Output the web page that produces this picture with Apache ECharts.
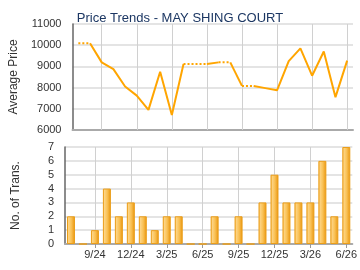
<!DOCTYPE html>
<html>
<head>
<meta charset="utf-8">
<title>Price Trends - MAY SHING COURT</title>
<script src="https://cdn.jsdelivr.net/npm/echarts@6/dist/echarts.min.js"></script>
<style>
	html, body { margin: 0; padding: 0; background: #fff; }
	#priceTrends { width: 360px; height: 270px; }
</style>
</head>
<body>
<div id="priceTrends"></div>
<script>
	var months = ['7/24', '8/24', '9/24', '10/24', '11/24', '12/24', '1/25', '2/25', '3/25', '4/25', '5/25', '6/25',
		'7/25', '8/25', '9/25', '10/25', '11/25', '12/25', '1/26', '2/26', '3/26', '4/26', '5/26', '6/26'];
	// average price per month, null = no transaction in that month
	var avgPrice = [10090, null, 9190, 8870, 8050, 7620, 6950, 8750, 6710, 9110, null, null,
		9190, null, 8080, null, 7975, 7870, 9250, 9850, 8560, 9700, 7550, 9270];
	var transCount = [2, 0, 1, 4, 2, 3, 2, 1, 2, 2, 0, 0, 2, 0, 2, 0, 3, 5, 3, 3, 3, 6, 2, 7];
	var priceRange = [6000, 11000];
	var transRange = [0, 7];

	var font = 'Liberation Sans, Arial, sans-serif';
	var orange = '#FFA500';

	// months without deals carry the last price forward (drawn dotted)
	var filled = [];
	for (var i = 0; i < avgPrice.length; i++) {
		filled.push(avgPrice[i] != null ? avgPrice[i] : filled[i - 1]);
	}

	// split the line into runs of solid / dotted segments
	function runs(test) {
		var out = [], cur = null;
		for (var i = 0; i < filled.length - 1; i++) {
			if (test(i)) {
				if (!cur) {
					cur = filled.map(function() { return null; });
					cur[i] = filled[i];
					out.push(cur);
				}
				cur[i + 1] = filled[i + 1];
			} else {
				cur = null;
			}
		}
		return out;
	}

	function quarterly(index) {
		return index % 3 === 2;
	}

	// vertical grid lines sit on the quarter labels (category centres)
	var quarterLines = months.filter(function(m, i) { return quarterly(i); }).map(function(m) {
		return { xAxis: m };
	});
	function gridSeries(idx) {
		return {
			type: 'line', xAxisIndex: idx, yAxisIndex: idx, data: [], z: 1, silent: true,
			markLine: {
				silent: true, symbol: 'none', animation: false, z: 1,
				label: { show: false },
				lineStyle: { color: '#d0d0d0', width: 1, type: 'solid' },
				data: quarterLines
			}
		};
	}

	var lineSeries = [gridSeries(0), gridSeries(1)];
	runs(function(i) { return avgPrice[i + 1] != null; }).forEach(function(d) {
		lineSeries.push({ type: 'line', xAxisIndex: 0, yAxisIndex: 0, data: d, symbol: 'none', z: 10,
			lineStyle: { color: orange, width: 2 }, silent: true });
	});
	runs(function(i) { return avgPrice[i + 1] == null; }).forEach(function(d) {
		lineSeries.push({ type: 'line', xAxisIndex: 0, yAxisIndex: 0, data: d, symbol: 'none', z: 10,
			lineStyle: { color: orange, width: 2, type: 'dotted' }, silent: true });
	});

	var chart = echarts.init(document.getElementById('priceTrends'));
	var option = {
		animation: false,
		title: {
			text: 'Price Trends - MAY SHING COURT',
			left: 'center',
			top: 7,
			textStyle: { fontFamily: font, fontSize: 13, fontWeight: 'normal', color: '#1c3763' }
		},
		grid: [
			{ left: 65, right: 7, top: 24, height: 106 },
			{ left: 65, right: 7, top: 147, bottom: 26 }
		],
		xAxis: [{
			gridIndex: 0,
			type: 'category',
			data: months,
			axisLine: { lineStyle: { color: '#aaa', width: 2 } },
			axisTick: { show: false },
			axisLabel: { show: false },
			splitLine: { show: false }
		}, {
			gridIndex: 1,
			type: 'category',
			data: months,
			axisLine: { lineStyle: { color: '#aaa', width: 2 } },
			axisTick: { show: true, alignWithLabel: true, interval: quarterly, length: 4, lineStyle: { color: '#999' } },
			axisLabel: { interval: quarterly, margin: 5, fontFamily: font, fontSize: 11, color: '#333' },
			splitLine: { show: false }
		}],
		yAxis: [{
			gridIndex: 0,
			type: 'value',
			min: priceRange[0],
			max: priceRange[1],
			interval: 1000,
			name: 'Average Price',
			nameLocation: 'middle',
			nameGap: 43,
			nameTextStyle: { fontFamily: font, fontSize: 12, color: '#333' },
			axisLine: { show: true, lineStyle: { color: '#666', width: 1.5 } },
			axisTick: { show: false },
			axisLabel: { margin: 11, fontFamily: font, fontSize: 11, color: '#333',
				formatter: function(v) { return String(v); } },
			splitLine: { lineStyle: { color: '#e4e4e4', width: 2 } }
		}, {
			gridIndex: 1,
			type: 'value',
			min: transRange[0],
			max: transRange[1],
			interval: 1,
			name: 'No. of Trans.',
			nameLocation: 'middle',
			nameGap: 43,
			nameTextStyle: { fontFamily: font, fontSize: 12, color: '#333' },
			axisLine: { show: true, lineStyle: { color: '#666', width: 1.5 } },
			axisTick: { show: false },
			axisLabel: { margin: 11, fontFamily: font, fontSize: 11, color: '#333' },
			splitLine: { lineStyle: { color: '#e4e4e4', width: 2 } }
		}],
		series: lineSeries.concat([{
			type: 'bar',
			xAxisIndex: 1,
			yAxisIndex: 1,
			data: transCount,
			barWidth: 8,
			z: 10,
			silent: true,
			itemStyle: {
				borderColor: '#eb9e1a',
				borderWidth: 1,
				color: new echarts.graphic.LinearGradient(0, 0, 1, 0, [
					{ offset: 0, color: '#f3ad30' },
					{ offset: 0.2, color: '#fdd484' },
					{ offset: 0.55, color: '#f9c155' },
					{ offset: 0.85, color: '#eea223' },
					{ offset: 1, color: '#e39410' }
				])
			}
		}])
	};
	chart.setOption(option);
</script>
</body>
</html>
